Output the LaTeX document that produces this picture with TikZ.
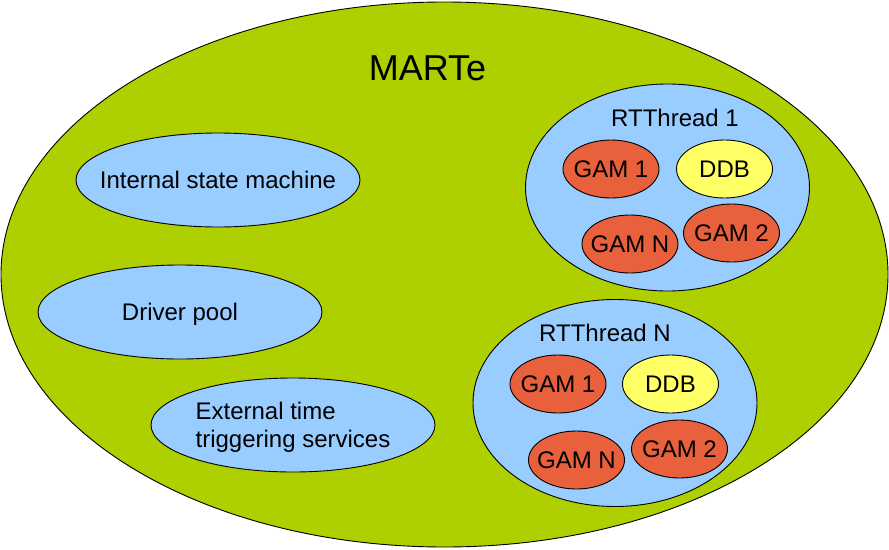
\documentclass[tikz,border=0pt]{standalone}
\usepackage{fontspec}
\setmainfont{Liberation Sans}
\usetikzlibrary{shapes.geometric}
\definecolor{martegreen}{HTML}{AECF00}
\definecolor{lightblue}{HTML}{99CCFF}
\definecolor{gamred}{HTML}{E8603C}
\definecolor{ddbyellow}{HTML}{FFFF66}
\tikzset{
  txtbase/.style={inner sep=0pt, font=\fontsize{24}{28}\selectfont},
  txt/.style={txtbase, text height=17pt, text depth=0pt},
  blob/.style={ellipse, draw=black, line width=0.9pt, inner sep=0pt},
  svc/.style={blob, fill=lightblue, minimum width=284pt, minimum height=94pt},
  thread/.style={blob, fill=lightblue, minimum width=284pt, minimum height=207pt},
  gam/.style={blob, fill=gamred, minimum width=96pt, minimum height=58pt},
  ddb/.style={gam, fill=ddbyellow},
}
\begin{document}
\begin{tikzpicture}[x=1pt,y=-1pt]
\useasboundingbox (0,0) rectangle (889,549);
\node[blob, fill=martegreen, minimum width=887pt, minimum height=545pt] (marte) at (444.5,274.5) {};
\node[inner sep=0pt, text height=26pt, text depth=0pt, font=\fontsize{36}{40}\selectfont] (martelbl) at (427.5,67.5) {MARTe};

\node[svc, label={[txt]center:Internal state machine}] (ism) at (218,180) {};
\node[svc, label={[txt]center:Driver pool}] (drv) at (180,312) {};
\node[svc, label={[txtbase, align=left, yshift=-2.5pt]center:External time\\triggering services}] (ext) at (293,425) {};

\node[thread] (rt1) at (667.5,187.5) {};
\node[txt] (rt1lbl) at (675,118) {RTThread 1};
\node[gam, label={[txt]center:GAM 1}] (rt1g1) at (611,169) {};
\node[ddb, label={[txt]center:DDB}] (rt1ddb) at (724.5,169) {};
\node[gam, label={[txt]center:GAM N}] (rt1gn) at (630,244) {};
\node[gam, label={[txt]center:GAM 2}] (rt1g2) at (731.5,233) {};

\node[thread] (rtn) at (615,403) {};
\node[txt] (rtnlbl) at (605,333) {RTThread N};
\node[gam, label={[txt]center:GAM 1}] (rtng1) at (558,384) {};
\node[ddb, label={[txt]center:DDB}] (rtnddb) at (670.5,384) {};
\node[gam, label={[txt]center:GAM N}] (rtngn) at (576.5,460) {};
\node[gam, label={[txt]center:GAM 2}] (rtng2) at (679.5,449) {};
\end{tikzpicture}
\end{document}
